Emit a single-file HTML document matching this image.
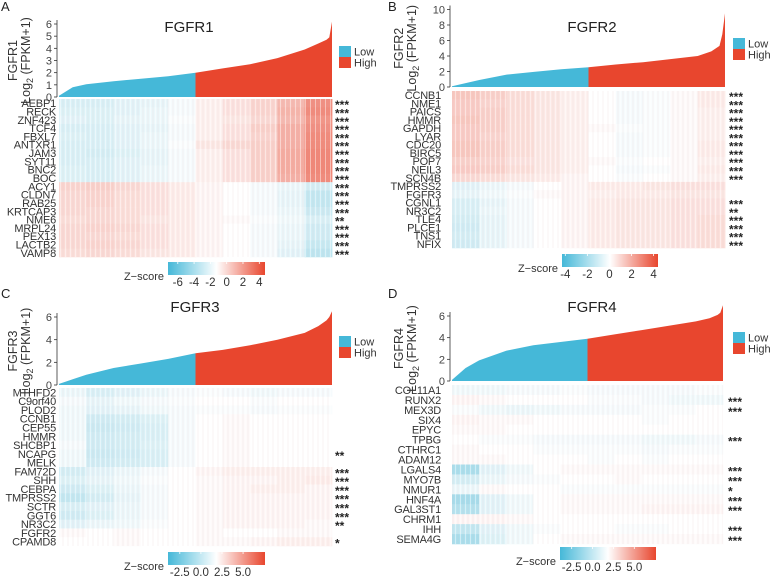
<!DOCTYPE html>
<html><head><meta charset="utf-8">
<style>
html,body{margin:0;padding:0;background:#fff;}
svg{display:block;font-family:"Liberation Sans",sans-serif;}
</style></head>
<body>
<svg id="fig" width="770" height="576" viewBox="0 0 770 576" xmlns="http://www.w3.org/2000/svg">
<defs>
<pattern id="stripes" width="5" height="10" patternUnits="userSpaceOnUse">
<rect x="0" y="0" width="1" height="10" fill="#ffffff" opacity="0.45"/>
<rect x="2.5" y="0" width="1" height="10" fill="#c8a0a0" opacity="0.12"/>
</pattern>
<linearGradient id="cbar" x1="0" x2="1" y1="0" y2="0">
<stop offset="0" stop-color="#45b8d8"/><stop offset="0.5" stop-color="#ffffff"/><stop offset="1" stop-color="#e8462e"/>
</linearGradient>
</defs>
</svg>
<script>
// ---- data ----
const quantiles = [0,0.05,0.1,0.2,0.3,0.4,0.5,0.6,0.7,0.8,0.9,0.95,0.98,0.99,1];
const exprA = [0.1,0.8,1.05,1.3,1.5,1.7,2.0,2.35,2.7,3.2,3.9,4.4,4.7,4.9,6.2];
const exprB = [0.1,0.5,0.9,1.6,1.95,2.3,2.55,2.9,3.2,3.6,4.0,4.6,5.3,6.8,9.5];
const exprC = [0.1,0.5,0.9,1.5,1.9,2.3,2.8,3.1,3.5,4.0,4.6,5.2,5.7,6.0,6.5];
const exprD = [0.1,1.2,1.9,2.8,3.3,3.6,3.9,4.3,4.7,5.1,5.5,5.8,6.1,6.3,7.0];

const genesA = ["AEBP1","RECK","ZNF423","TCF4","FBXL7","ANTXR1","JAM3","SYT11","BNC2","BOC","ACY1","CLDN7","RAB25","KRTCAP3","NME6","MRPL24","PEX13","LACTB2","VAMP8"];
const starsA = ["***","***","***","***","***","***","***","***","***","***","***","***","***","***","**","***","***","***","***"];
const genesB = ["CCNB1","NME1","PAICS","HMMR","GAPDH","LYAR","CDC20","BIRC5","POP7","NEIL3","SCN4B","TMPRSS2","FGFR3","CGNL1","NR3C2","TLE4","PLCE1","TNS1","NFIX"];
const starsB = ["***","***","***","***","***","***","***","***","***","***","***","","","***","**","***","***","***","***"];
const genesC = ["MTHFD2","C9orf40","PLOD2","CCNB1","CEP55","HMMR","SHCBP1","NCAPG","MELK","FAM72D","SHH","CEBPA","TMPRSS2","SCTR","GGT6","NR3C2","FGFR2","CPAMD8"];
const starsC = ["","","","","","","","**","","***","***","***","***","***","***","**","","*"];
const genesD = ["COL11A1","RUNX2","MEX3D","SIX4","EPYC","TPBG","CTHRC1","ADAM12","LGALS4","MYO7B","NMUR1","HNF4A","GAL3ST1","CHRM1","IHH","SEMA4G"];
const starsD = ["","***","***","","","***","","","***","***","*","***","***","","***","***"];

// per-row z-score levels across 10 segments (low -> high expression order)
const heatA = [
[-0.8,-0.8,-0.6,-0.5,-0.2,0.3,0.6,0.9,1.5,2.4],[-0.7,-0.7,-0.6,-0.4,-0.2,0.3,0.6,0.9,1.6,2.5],
[-0.6,-0.7,-0.5,-0.4,-0.1,0.3,0.5,0.8,1.5,2.3],[-0.8,-0.8,-0.6,-0.5,-0.2,0.3,0.6,1.0,1.7,2.4],
[-0.7,-0.8,-0.6,-0.4,-0.2,0.3,0.6,0.9,1.7,2.5],[-0.8,-0.8,-0.6,-0.4,-0.1,0.5,0.8,1.0,1.7,2.5],
[-0.8,-0.9,-0.7,-0.5,-0.2,0.3,0.6,1.0,1.8,2.6],[-0.8,-0.8,-0.6,-0.5,-0.2,0.3,0.6,1.0,1.8,2.6],
[-0.7,-0.8,-0.6,-0.4,-0.2,0.3,0.6,1.0,1.8,2.6],[-0.7,-0.8,-0.6,-0.4,-0.2,0.3,0.6,1.0,1.7,2.5],
[0.9,1.0,0.8,0.6,0.4,0.2,0.0,-0.2,-0.4,-0.9],[0.8,0.9,0.7,0.6,0.4,0.2,0.0,-0.2,-0.5,-1.3],
[0.8,0.9,0.7,0.6,0.4,0.2,0.0,-0.2,-0.5,-1.3],[0.8,0.8,0.7,0.6,0.4,0.2,0.0,-0.2,-0.4,-1.1],
[0.7,0.8,0.7,0.5,0.4,0.2,0.1,-0.1,-0.3,-0.8],[0.8,0.9,0.8,0.6,0.4,0.2,0.0,-0.2,-0.4,-1.0],
[0.8,0.8,0.7,0.6,0.4,0.2,0.0,-0.2,-0.4,-1.0],[0.8,0.9,0.8,0.6,0.4,0.2,0.0,-0.2,-0.5,-1.2],
[0.7,0.8,0.7,0.5,0.4,0.2,0.0,-0.2,-0.6,-1.4]];
const heatB = [
[1.2,1.0,0.7,0.5,0.3,0.0,-0.2,-0.1,0.1,0.4],[1.1,0.9,0.7,0.5,0.3,0.0,-0.2,-0.1,0.1,0.4],
[1.1,1.0,0.7,0.5,0.3,0.0,-0.2,-0.1,0.1,0.3],[1.2,1.0,0.7,0.5,0.3,0.0,-0.2,-0.1,0.1,0.3],
[1.1,1.0,0.7,0.5,0.3,0.1,-0.1,-0.1,0.1,0.3],[1.1,0.9,0.7,0.5,0.3,0.0,-0.2,-0.1,0.1,0.3],
[1.2,1.0,0.7,0.5,0.3,0.0,-0.2,-0.1,0.1,0.4],[1.2,1.0,0.7,0.5,0.3,0.0,-0.2,-0.1,0.1,0.4],
[1.0,0.9,0.6,0.5,0.3,0.1,-0.1,0.0,0.1,0.3],[1.1,1.0,0.7,0.5,0.3,0.0,-0.2,-0.1,0.1,0.4],
[0.8,0.7,0.5,0.4,0.2,0.0,-0.1,0.0,0.1,0.3],[-0.6,-0.4,-0.2,0.0,0.2,0.4,0.4,0.5,0.6,0.6],
[-0.5,-0.3,-0.1,0.1,0.2,0.3,0.4,0.4,0.5,0.5],[-0.8,-0.5,-0.2,0.0,0.2,0.4,0.5,0.5,0.6,0.6],
[-0.8,-0.4,-0.2,0.0,0.2,0.4,0.5,0.5,0.6,0.6],[-0.9,-0.5,-0.2,0.0,0.2,0.4,0.5,0.5,0.6,0.7],
[-1.0,-0.5,-0.2,0.0,0.2,0.4,0.5,0.5,0.6,0.7],[-0.9,-0.5,-0.2,0.0,0.2,0.4,0.5,0.5,0.6,0.7],
[-1.0,-0.5,-0.2,0.0,0.2,0.4,0.5,0.5,0.6,0.7]];
const heatC = [
[-0.4,-0.8,-0.6,-0.4,-0.2,-0.1,-0.2,-0.3,-0.2,-0.2],[-0.2,-0.5,-0.3,-0.2,-0.1,0.0,0.0,-0.1,0.0,0.0],
[-0.3,-0.6,-0.5,-0.3,-0.2,-0.1,-0.1,-0.2,-0.1,-0.1],[-0.3,-1.0,-0.9,-0.7,-0.2,0.0,0.1,0.0,0.0,0.0],
[-0.3,-1.1,-1.0,-0.8,-0.2,0.0,0.1,0.0,0.0,0.0],[-0.3,-1.0,-0.9,-0.8,-0.2,0.0,0.1,0.0,0.0,0.0],
[-0.2,-1.0,-0.9,-0.7,-0.2,0.0,0.1,0.0,0.0,0.0],[-0.3,-1.1,-1.0,-0.8,-0.2,0.0,0.1,0.0,0.0,0.0],
[-0.3,-1.0,-0.9,-0.8,-0.2,0.0,0.1,0.0,0.0,0.0],[-0.9,-0.6,-0.4,-0.2,0.0,0.2,0.3,0.3,0.3,0.3],
[-0.7,-0.5,-0.3,-0.1,0.0,0.1,0.2,0.2,0.3,0.4],[-1.0,-0.7,-0.4,-0.2,0.0,0.1,0.2,0.3,0.3,0.2],
[-1.3,-0.9,-0.5,-0.2,0.0,0.1,0.2,0.2,0.2,0.2],[-0.8,-0.6,-0.4,-0.2,0.0,0.1,0.2,0.2,0.2,0.2],
[-1.0,-0.7,-0.4,-0.2,0.0,0.1,0.2,0.2,0.2,0.2],[-0.6,-0.4,-0.3,-0.1,0.0,0.1,0.2,0.2,0.2,0.1],
[0.1,0.0,0.1,0.0,0.0,0.1,0.0,0.0,0.1,0.1],[0.0,0.0,0.1,0.0,0.0,0.1,0.1,0.2,0.3,0.3]];
const heatD = [
[-0.3,-0.3,-0.2,-0.2,-0.1,-0.2,-0.2,-0.2,-0.2,-0.1],[0.2,0.1,0.0,0.0,0.0,-0.1,-0.1,-0.2,-0.3,-0.3],
[-0.1,-0.3,-0.4,-0.3,-0.2,-0.2,-0.2,-0.1,-0.1,0.0],[0.2,0.1,0.1,0.0,0.0,0.0,0.0,-0.1,0.0,0.0],
[0.1,0.1,0.0,0.0,0.0,0.0,0.0,0.0,0.0,0.0],[0.0,-0.1,-0.1,-0.2,-0.2,-0.2,-0.2,-0.3,-0.3,-0.2],
[0.1,0.0,0.0,-0.1,-0.1,-0.1,-0.1,-0.2,-0.1,-0.1],[0.1,0.1,0.0,0.0,0.0,-0.1,0.0,-0.1,0.0,0.0],
[-1.8,-0.6,-0.3,0.0,0.1,0.1,0.1,0.1,0.1,0.1],[-0.9,-0.4,-0.2,-0.1,0.0,0.0,0.1,0.0,0.0,0.0],
[-0.4,0.1,0.0,0.0,-0.1,-0.1,-0.1,-0.1,-0.1,-0.1],[-1.9,-0.6,-0.3,0.0,0.1,0.1,0.1,0.1,0.1,0.1],
[-1.6,-0.6,-0.3,0.0,0.1,0.1,0.1,0.2,0.2,0.2],[0.2,0.2,0.1,0.0,0.0,0.0,0.0,0.0,0.0,0.0],
[-1.3,-0.6,-0.3,-0.1,0.0,0.0,-0.1,-0.1,0.0,0.0],[-1.8,-0.7,-0.3,0.0,0.1,0.1,0.1,0.1,0.1,0.1]];

const cbTicksA = ["-6","-4","-2","0","2","4"];
const cbValsA = [-6,-4,-2,0,2,4];
const cbTicksB = ["-4","-2","0","2","4"];
const cbValsB = [-4,-2,0,2,4];
const cbTicksC = ["-2.5","0.0","2.5","5.0"];
const cbValsC = [-2.5,0,2.5,5];
const yTicksA = [0,1,2,3,4,5,6];
const yTicksB = [0,2,4,6,8,10];
const yTicksC = [0,2,4,6];
const yTicksD = [0,2,4,6];

// ---- drawing ----
const NS = "http://www.w3.org/2000/svg";
const svg = document.getElementById("fig");
function el(tag, attrs, parent, text){
  const e = document.createElementNS(NS, tag);
  for (const k in attrs) e.setAttribute(k, attrs[k]);
  if (text !== undefined) e.textContent = text;
  (parent || svg).appendChild(e);
  return e;
}
function mix(a,b,t){
  const pa=[parseInt(a.slice(1,3),16),parseInt(a.slice(3,5),16),parseInt(a.slice(5,7),16)];
  const pb=[parseInt(b.slice(1,3),16),parseInt(b.slice(3,5),16),parseInt(b.slice(5,7),16)];
  return "rgb("+pa.map((v,i)=>Math.round(v+(pb[i]-v)*t)).join(",")+")";
}
function zColor(v){
  const t = Math.min(1, Math.abs(v)/4);
  return v<0 ? mix("#ffffff","#45b8d8",t) : mix("#ffffff","#e8462e",t);
}

function panel(cfg){
  const g = el("g", {});
  
  
  const L = el("text", {x:cfg.letterX, y:cfg.letterY, "font-size":13, fill:"#222"}, g, cfg.letter);
  
  

  const x0=cfg.x0, x1=cfg.x1, yb=cfg.y0;
  const yS = v => yb - (v/cfg.yUnitMax)*(yb-cfg.yTop);
  const xS = q => x0 + q*(x1-x0);

  const pts = cfg.expr.map((v,i)=>[xS(quantiles[i]), yS(v)]);
  const lowPts = [], highPts = [];
  const midIdx = quantiles.indexOf(0.5);
  for (let i=0;i<=midIdx;i++) lowPts.push(pts[i]);
  for (let i=midIdx;i<pts.length;i++) highPts.push(pts[i]);
  function areaPath(p){
    let d = "M"+p[0][0]+","+yb;
    p.forEach(q=>{ d += " L"+q[0].toFixed(1)+","+q[1].toFixed(1); });
    d += " L"+p[p.length-1][0]+","+yb+" Z";
    return d;
  }
  const a1 = el("path",{d:areaPath(lowPts), fill:"#45b8d8"}, g);
  
  
  const a2 = el("path",{d:areaPath(highPts), fill:"#e8462e"}, g);
  
  

  const ax = el("line",{x1:x0-2,x2:x0-2,y1:yS(cfg.yTicks[cfg.yTicks.length-1])-4,y2:yb,stroke:"#333","stroke-width":0.8}, g);
  
  
  cfg.yTicks.forEach(t=>{
    el("line",{x1:x0-5,x2:x0-2,y1:yS(t),y2:yS(t),stroke:"#333","stroke-width":0.8}, g);
    const tl = el("text",{x:x0-7,y:yS(t)+4,"font-size":11,"text-anchor":"end",fill:"#444"}, g, String(t));
    
    
  });
  const ym = (yb + yS(cfg.yTicks[cfg.yTicks.length-1]))/2;
  const yt = el("text",{transform:`translate(${cfg.ytX},${ym}) rotate(-90)`,"font-size":12.5,"text-anchor":"middle",fill:"#333"}, g);
  
  
  el("tspan",{x:0,dy:0}, yt, cfg.title);
  el("tspan",{x:0,dy:13}, yt, "Log");
  el("tspan",{"font-size":9,dy:3}, yt, "2");
  el("tspan",{dy:-3}, yt, " (FPKM+1)");

  const title = el("text",{x:cfg.titleX,y:cfg.titleY,"font-size":15,"text-anchor":"middle",fill:"#222"}, g, cfg.title);
  
  

  [["Low","#45b8d8"],["High","#e8462e"]].forEach((it,i)=>{
    const lg = el("g",{}, g);
    
    
    el("rect",{x:cfg.legX,y:cfg.legY+i*11,width:12,height:11,fill:it[1]}, lg);
    el("text",{x:cfg.legX+15,y:cfg.legY+i*11+9.5,"font-size":11,fill:"#333"}, lg, it[0]);
  });

  const hm = el("g",{}, g);
  
  
  const n = cfg.genes.length;
  const rh = (cfg.hy1-cfg.hy0)/n;
  cfg.heat.forEach((row,r)=>{
    const segW = (x1-x0)/row.length;
    row.forEach((v,c)=>{
      const cell = el("rect",{x:(x0+c*segW).toFixed(2),y:(cfg.hy0+r*rh).toFixed(2),width:(segW+0.4).toFixed(2),height:(rh+0.3).toFixed(2),fill:zColor(v)}, hm);
      
      
    });
  });
  el("rect",{x:x0,y:cfg.hy0,width:x1-x0,height:cfg.hy1-cfg.hy0,fill:"url(#stripes)"}, hm);
  cfg.genes.forEach((gname,r)=>{
    const gl = el("text",{x:cfg.labX,y:(cfg.hy0+(r+0.5)*rh+4).toFixed(1),"font-size":11,"text-anchor":"end",fill:"#333","letter-spacing":"-0.2"}, g, gname);
    
    
    if (cfg.stars[r]) {
      const st = el("text",{x:cfg.starX,y:(cfg.hy0+(r+0.5)*rh+6).toFixed(1),"font-size":12,fill:"#222","font-weight":"bold"}, g, cfg.stars[r]);
      
      
    }
  });

  const cb = el("g",{}, g);
  
  
  el("rect",{x:cfg.cbX0,y:cfg.cbY,width:cfg.cbX1-cfg.cbX0,height:13,fill:"url(#cbar)"}, cb);
  const cS = v => cfg.cbX0 + (v-cfg.cbMin)/(cfg.cbMax-cfg.cbMin)*(cfg.cbX1-cfg.cbX0);
  cfg.cbVals.forEach((v,i)=>{
    el("line",{x1:cS(v),x2:cS(v),y1:cfg.cbY,y2:cfg.cbY+2,stroke:"#fff","stroke-width":0.8}, cb);
    el("text",{x:cS(v),y:cfg.cbY+24,"font-size":11.5,"text-anchor":"middle",fill:"#333"}, cb, cfg.cbTicks[i]);
  });
  el("text",{x:cfg.cbX0-4,y:cfg.cbY+18,"font-size":11,"text-anchor":"end",fill:"#333"}, cb, "Z\u2212score");
}

panel({name:"panel-a-fgfr1",letter:"A",letterX:1,letterY:11,title:"FGFR1",x0:59,x1:332,y0:97,yTop:24,yUnitMax:6,
  expr:exprA,yTicks:yTicksA,ytX:17,titleX:189,titleY:32,legX:339,legY:46,genes:genesA,stars:starsA,heat:heatA,
  hy0:99,hy1:257,labX:56,starX:335,cbX0:168,cbX1:265,cbY:262,cbMin:-7.2,cbMax:4.7,cbVals:cbValsA,cbTicks:cbTicksA});
panel({name:"panel-b-fgfr2",letter:"B",letterX:388,letterY:11,title:"FGFR2",x0:452,x1:725,y0:87,yTop:9.5,yUnitMax:10,
  expr:exprB,yTicks:yTicksB,ytX:403,titleX:592,titleY:32,legX:733,legY:38,genes:genesB,stars:starsB,heat:heatB,
  hy0:91,hy1:248,labX:441,starX:729,cbX0:562,cbX1:658,cbY:254,cbMin:-4.3,cbMax:4.4,cbVals:cbValsB,cbTicks:cbTicksB});
panel({name:"panel-c-fgfr3",letter:"C",letterX:1,letterY:298,title:"FGFR3",x0:59,x1:332,y0:385,yTop:317,yUnitMax:6,
  expr:exprC,yTicks:yTicksC,ytX:17,titleX:195,titleY:312,legX:339,legY:336,genes:genesC,stars:starsC,heat:heatC,
  hy0:388,hy1:546,labX:56,starX:335,cbX0:168,cbX1:265,cbY:552,cbMin:-3.9,cbMax:7.6,cbVals:cbValsC,cbTicks:cbTicksC});
panel({name:"panel-d-fgfr4",letter:"D",letterX:388,letterY:298,title:"FGFR4",x0:452,x1:723,y0:381,yTop:316,yUnitMax:6,
  expr:exprD,yTicks:yTicksD,ytX:403,titleX:592,titleY:312,legX:733,legY:332,genes:genesD,stars:starsD,heat:heatD,
  hy0:385,hy1:544,labX:441,starX:728,cbX0:560,cbX1:656,cbY:547,cbMin:-3.9,cbMax:7.6,cbVals:cbValsC,cbTicks:cbTicksC});
</script>
</body></html>
